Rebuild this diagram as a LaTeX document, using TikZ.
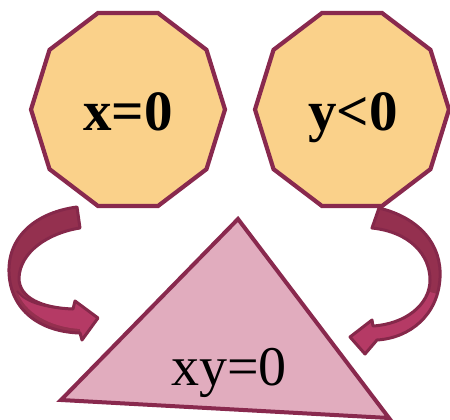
\documentclass[tikz,border=0pt]{standalone}
\usepackage{fontspec}
\setmainfont{Liberation Serif}
\begin{document}
\begin{tikzpicture}[x=1pt,y=-1pt,
  deca/.style={fill=decafill,draw=maroon,line width=4.2pt,line join=miter},
  tri/.style={fill=trifill,draw=maroon,line width=4pt,line join=miter},
  arrback/.style={fill=arrdark},
  arrfront/.style={fill=arrlight},
  arredge/.style={draw=arrline,line width=3pt,line join=round},
  boldlbl/.style={font=\fontsize{57}{62}\selectfont\bfseries,inner sep=0pt,anchor=base},
  lbl/.style={font=\fontsize{56}{62}\selectfont,inner sep=0pt,anchor=base}]
\definecolor{decafill}{HTML}{FAD18A}
\definecolor{trifill}{HTML}{E1ACBE}
\definecolor{maroon}{HTML}{89294E}
\definecolor{arrdark}{HTML}{94304F}
\definecolor{arrlight}{HTML}{B53A65}
\definecolor{arrline}{HTML}{85284A}
\useasboundingbox (0,0) rectangle (450,420);
% decagons
\draw[deca,shift={(128,109.5)}] (0:97 and 101.5) -- (36:97 and 101.5) -- (72:97 and 101.5) -- (108:97 and 101.5) -- (144:97 and 101.5) -- (180:97 and 101.5) -- (216:97 and 101.5) -- (252:97 and 101.5) -- (288:97 and 101.5) -- (324:97 and 101.5) -- cycle;
\draw[deca,shift={(352,109.5)}] (0:97 and 101.5) -- (36:97 and 101.5) -- (72:97 and 101.5) -- (108:97 and 101.5) -- (144:97 and 101.5) -- (180:97 and 101.5) -- (216:97 and 101.5) -- (252:97 and 101.5) -- (288:97 and 101.5) -- (324:97 and 101.5) -- cycle;
\node[boldlbl] (xeq) at (128,130) {x=0};
\node[boldlbl] (ylt) at (353,130) {y<0};
% triangle
\draw[tri] (238,219) -- (389,418) -- (61,400) -- cycle;
\node[lbl] (xyeq) at (229,385) {xy=0};
% left curved arrow
\path[arrback] (77,207) -- (80,228) .. controls (48,233) and (20,252) .. (19,278) .. controls (19,298) and (42,308) .. (73,309) -- (75,301) -- (98,318) -- (82,340) -- (80,333) .. controls (40,332) and (10,310) .. (9,272) .. controls (8,235) and (38,212) .. (77,207) -- cycle;
\path[arrfront] (17,291) .. controls (26,303) and (46,308) .. (73,309) -- (75,301) -- (98,318) -- (82,340) -- (80,329) .. controls (50,327) and (25,313) .. (17,291) -- cycle;
\path[arredge] (77,207) -- (80,228) .. controls (48,233) and (20,252) .. (19,278) .. controls (19,298) and (42,308) .. (73,309) -- (75,301) -- (98,318) -- (82,340) -- (80,333) .. controls (40,332) and (10,310) .. (9,272) .. controls (8,235) and (38,212) .. (77,207) -- cycle;
\draw[arrline,line width=2pt] (17,291) .. controls (26,303) and (46,308) .. (73,309);
% right curved arrow
\path[arrback] (379,208) .. controls (420,218) and (442,245) .. (440,278) .. controls (438,315) and (410,338) .. (377,340) -- (365,354) -- (350,337) -- (372,320) -- (373,326) .. controls (405,324) and (430,305) .. (430,280) .. controls (430,255) and (410,232) .. (372,228) -- cycle;
\path[arrfront] (437,294) .. controls (428,322) and (406,338) .. (377,340) -- (365,354) -- (350,337) -- (372,320) -- (373,326) .. controls (400,324) and (422,311) .. (430,292) -- cycle;
\path[arredge] (379,208) .. controls (420,218) and (442,245) .. (440,278) .. controls (438,315) and (410,338) .. (377,340) -- (365,354) -- (350,337) -- (372,320) -- (373,326) .. controls (405,324) and (430,305) .. (430,280) .. controls (430,255) and (410,232) .. (372,228) -- cycle;
\end{tikzpicture}
\end{document}
